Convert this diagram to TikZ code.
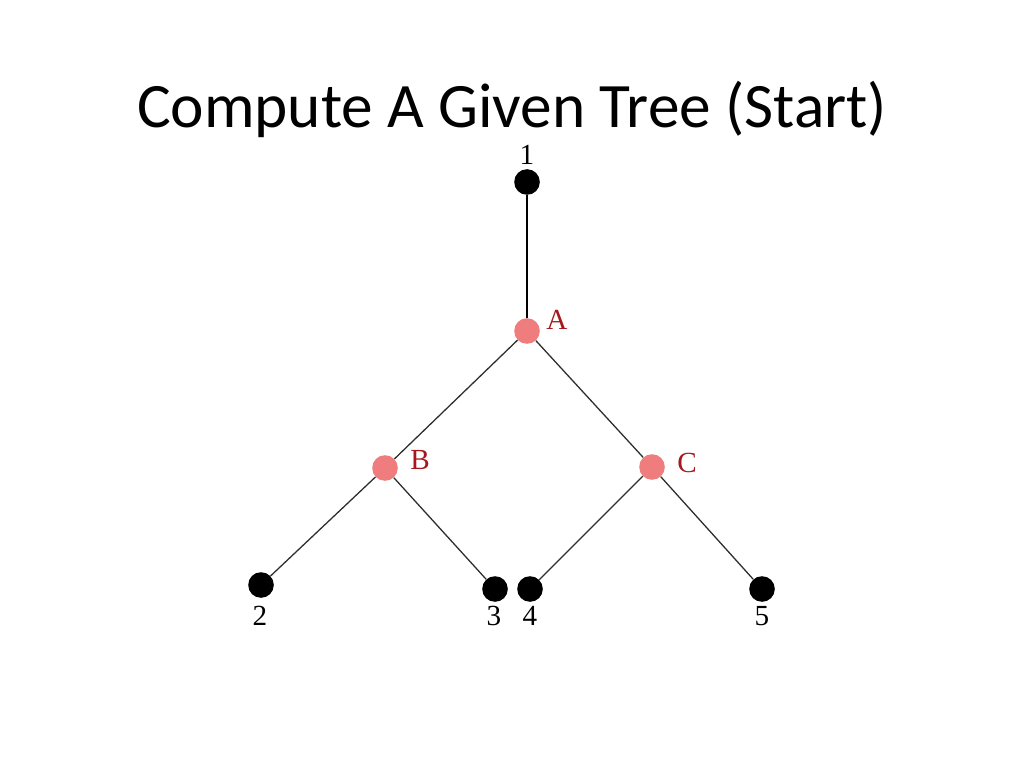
\documentclass[tikz,border=0pt]{standalone}
\usepackage{fontspec}
\setmainfont{Liberation Serif}
\newfontfamily\titlefont{Carlito}
\usepackage{xcolor}
\usepackage{tikz}
\usetikzlibrary{positioning}
\definecolor{nodepink}{RGB}{240,125,125}
\definecolor{labelred}{RGB}{165,25,30}
\definecolor{edgegray}{RGB}{45,45,45}

\begin{document}
\begin{tikzpicture}[x=0.703125pt, y=-0.703125pt]
\tikzstyle{leaf}=[circle, fill=black, inner sep=0pt, minimum size=18pt]
\tikzstyle{internal}=[circle, fill=nodepink, inner sep=0pt, minimum size=18pt]
\tikzstyle{connect}=[draw=edgegray, line width=0.9pt]
\tikzstyle{rootedge}=[draw=black, line width=1.7pt]
\tikzstyle{num}=[font=\fontsize{20.5}{20.5}\selectfont, inner sep=0pt]
\tikzstyle{redlabel}=[num, text=labelred]
  \fill[white] (0,0) rectangle (1024,768);
  \useasboundingbox (0,0) rectangle (1024,768);
  \node[anchor=base, font=\titlefont\fontsize{44.5}{44.5}\selectfont] (title) at (512,128) {Compute A Given Tree (Start)};
  % tree nodes
  \node[leaf] (one) at (527,182) {};
  \node[internal] (a) at (527,331) {};
  \node[internal] (b) at (385,468) {};
  \node[internal] (c) at (652,467) {};
  \node[leaf] (two) at (261,585) {};
  \node[leaf] (three) at (495,589) {};
  \node[leaf] (four) at (530,589) {};
  \node[leaf] (five) at (762,589) {};
  % labels
  \node[num] (lone) at (527,155) {1};
  \node[redlabel] (la) at (557,320) {A};
  \node[redlabel] (lb) at (420,460) {B};
  \node[redlabel] (lc) at (687,463) {C};
  \node[num] (ltwo) at (260,616) {2};
  \node[num] (lthree) at (494,616) {3};
  \node[num] (lfour) at (530,616) {4};
  \node[num] (lfive) at (762,616) {5};
  \path (one) edge [rootedge] (a)
        (a) edge [connect] (b)
        (a) edge [connect] (c)
        (b) edge [connect] (two)
        (b) edge [connect] (three)
        (c) edge [connect] (four)
        (c) edge [connect] (five);
\end{tikzpicture}
\end{document}
